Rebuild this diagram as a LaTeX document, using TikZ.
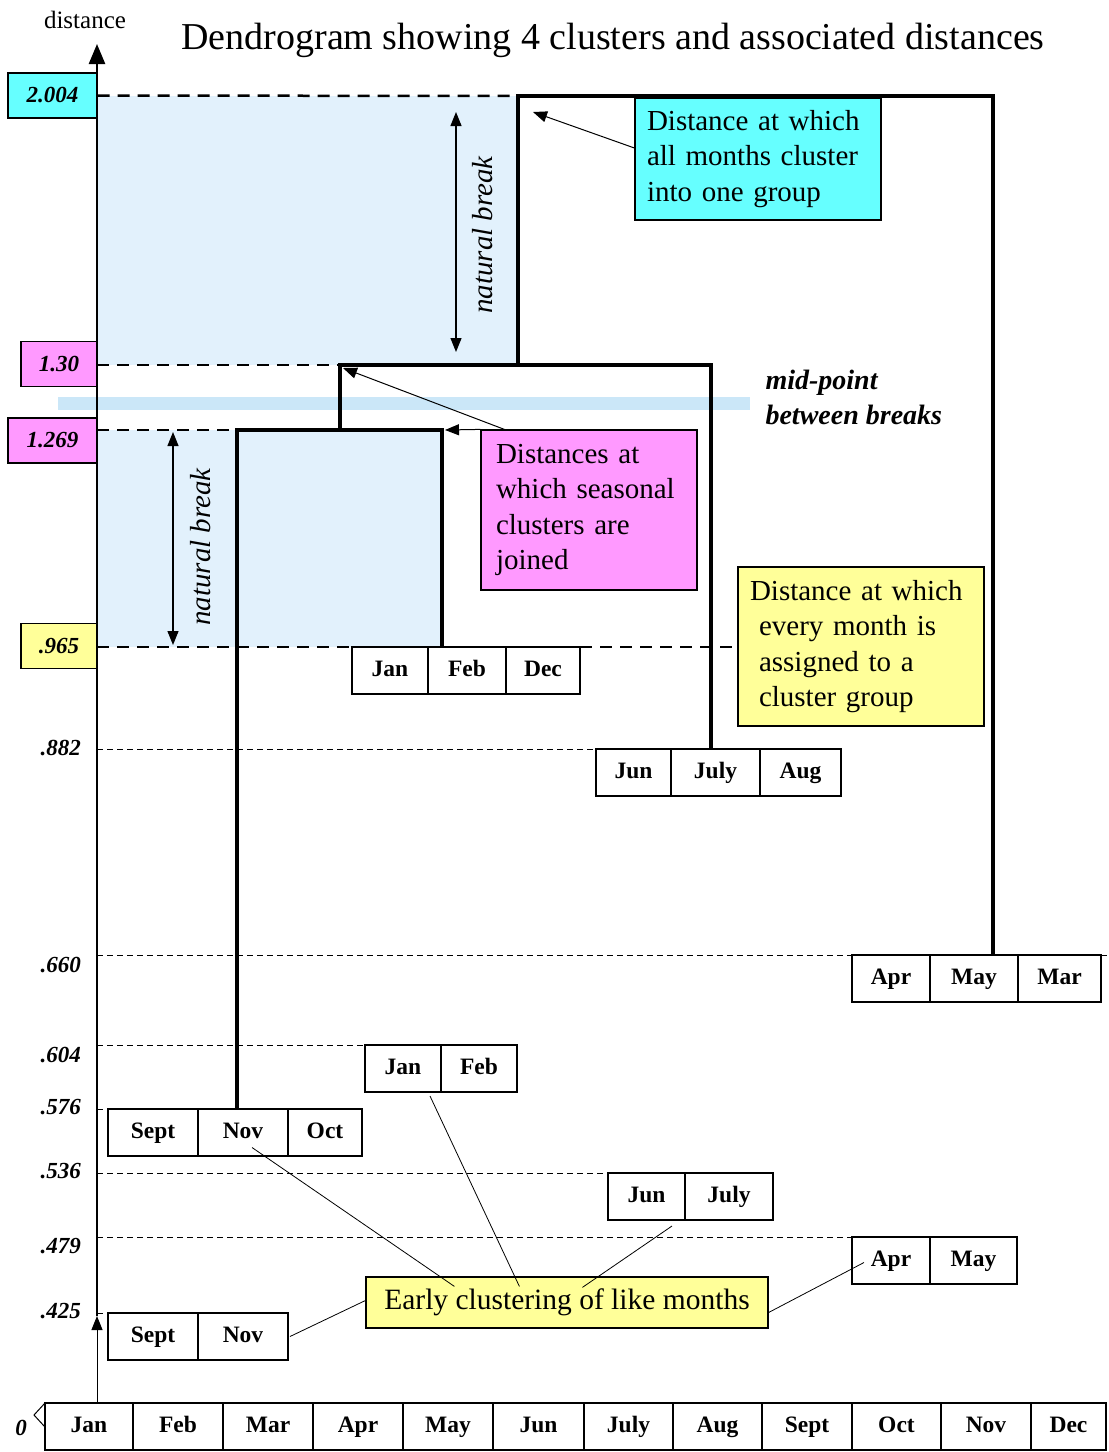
\documentclass[tikz,border=0pt]{standalone}
\usepackage{fontspec}
\setmainfont{Liberation Serif}
\usetikzlibrary{arrows.meta,positioning,calc}

\definecolor{cyanbox}{HTML}{66FFFF}
\definecolor{pinkbox}{HTML}{FF99FF}
\definecolor{yellowbox}{HTML}{FFFF99}
\definecolor{breakshade}{HTML}{E2F1FC}
\definecolor{midband}{HTML}{CBE7F8}

\begin{document}
\begin{tikzpicture}[x=1pt, y=-1pt,
  mbox/.style={draw, line width=2.5pt, fill=white, inner sep=0pt, outer sep=0pt,
               minimum height=47, text height=16pt, text depth=5pt,
               font=\fontsize{23.5}{27}\selectfont\bfseries},
  vbox/.style={draw, line width=1.2pt, inner sep=0pt, minimum height=45,
               font=\fontsize{23}{27}\selectfont\bfseries\itshape},
  vlab/.style={anchor=east, inner sep=0pt, font=\fontsize{23}{27}\selectfont\bfseries\itshape},
  note/.style={draw, line width=1.2pt, align=left, inner xsep=12pt, inner ysep=0pt,
               font=\fontsize{29}{35.5}\selectfont},
  link/.style={line width=4pt},
  major/.style={line width=2.5pt, dash pattern=on 12pt off 8pt},
  minor/.style={line width=1pt, dash pattern=on 6pt off 4pt},
  arr/.style={-{Triangle[length=14pt,width=11pt]}, line width=1pt},
  dbl/.style={{Triangle[length=14pt,width=11pt]}-{Triangle[length=14pt,width=11pt]}, line width=1.2pt},
  lead/.style={line width=0.8pt}]
  \useasboundingbox (0,0) rectangle (1109,1452);

  % shaded breaks and mid-point band
  \fill[breakshade] (97,96) rectangle (518,365);
  \fill[breakshade] (97,430) rectangle (442,647);
  \fill[midband] (58,397) rectangle (750,410);

  % joins of the dendrogram
  \coordinate (j2004) at (518,96);
  \coordinate (j2004r) at (993,96);
  \coordinate (j130) at (340,365);
  \coordinate (j130r) at (711,365);
  \coordinate (j1269) at (237,430);
  \coordinate (j1269r) at (442,430);
  \coordinate (ax0) at (97,1403);
  \coordinate (axmid) at (97,1316);
  \coordinate (axtop) at (97,44);

  % titles
  \node[font=\fontsize{38}{42}\selectfont] (title) at (613,40) {Dendrogram showing 4 clusters and associated distances};
  \node[font=\fontsize{25}{28}\selectfont] (axlab) at (85,20) {distance};

  % distance scale
  \node[vbox, fill=cyanbox, minimum width=89] (v2004) at (52.5,95.5) {2.004};
  \node[vbox, fill=pinkbox, minimum width=76] (v130) at (59,364) {1.30};
  \node[vbox, fill=pinkbox, minimum width=89] (v1269) at (52.5,440.5) {1.269};
  \node[vbox, fill=yellowbox, minimum width=76] (v965) at (59,646) {.965};
  \foreach \v/\y in {.882/748, .660/965, .604/1055, .576/1107, .536/1171, .479/1246, .425/1311}
    \node[vlab] (lab\y) at (81,\y) {\v};
  \node[vlab] (lab0) at (27,1428) {0};

  % months along the bottom
  \foreach \m/\x/\w [count=\i] in {Jan/45/88, Feb/133/90, Mar/223/90, Apr/313/90, May/403/90, Jun/493/91,
                                   July/584/89, Aug/673/89, Sept/762/90, Oct/852/89, Nov/941/90, Dec/1031/75}
    \node[mbox, anchor=north west, minimum width=\w] (b\i) at (\x,1403) {\m};

  % clusters
  \node[mbox, anchor=north west, minimum width=76] (jan965) at (352,647) {Jan};
  \node[mbox, minimum width=78, right=0pt of jan965] (feb965) {Feb};
  \node[mbox, minimum width=74, right=0pt of feb965] (dec965) {Dec};

  \node[mbox, anchor=north west, minimum width=75] (jun882) at (596,749) {Jun};
  \node[mbox, minimum width=89, right=0pt of jun882] (jul882) {July};
  \node[mbox, minimum width=81, right=0pt of jul882] (aug882) {Aug};

  \node[mbox, anchor=north west, minimum width=78] (apr660) at (852,955) {Apr};
  \node[mbox, minimum width=88, right=0pt of apr660] (may660) {May};
  \node[mbox, minimum width=83, right=0pt of may660] (mar660) {Mar};

  \node[mbox, anchor=north west, minimum width=76] (jan604) at (365,1045) {Jan};
  \node[mbox, minimum width=76, right=0pt of jan604] (feb604) {Feb};

  \node[mbox, anchor=north west, minimum width=90] (sep576) at (108,1109) {Sept};
  \node[mbox, minimum width=90, right=0pt of sep576] (nov576) {Nov};
  \node[mbox, minimum width=74, right=0pt of nov576] (oct576) {Oct};

  \node[mbox, anchor=north west, minimum width=77] (jun536) at (608,1173) {Jun};
  \node[mbox, minimum width=88, right=0pt of jun536] (jul536) {July};

  \node[mbox, anchor=north west, minimum width=78] (apr479) at (852,1237) {Apr};
  \node[mbox, minimum width=87, right=0pt of apr479] (may479) {May};

  \node[mbox, anchor=north west, minimum width=90] (sep425) at (108,1313) {Sept};
  \node[mbox, minimum width=90, right=0pt of sep425] (nov425) {Nov};

  % callouts
  \node[note, fill=cyanbox, text width=222pt, minimum height=122, inner xsep=12pt] (allnote) at (758,159)
    {Distance at which\\all months cluster\\into one group};
  \node[note, fill=pinkbox, text width=186pt, minimum height=160, inner xsep=15pt] (seasnote) at (589,510)
    {Distances at\\which seasonal\\clusters are\\joined};
  \node[note, fill=yellowbox, text width=222pt, minimum height=159] (everynote) at (861,646.5)
    {Distance at which\\\hspace*{9pt}every month is\\\hspace*{9pt}assigned to a\\\hspace*{9pt}cluster group};
  \node[note, fill=yellowbox, align=center, minimum width=402, minimum height=51,
        font=\fontsize{29.5}{35}\selectfont] (earlynote) at (567,1302.5)
    {Early clustering of like months};
  \node[font=\fontsize{28}{35}\selectfont\bfseries\itshape, align=left, anchor=west] (midtxt) at (762,397)
    {mid-point\\between breaks};
  \node[font=\fontsize{29}{32}\selectfont\itshape, rotate=90] (nb1) at (483,235) {natural break};
  \node[font=\fontsize{29}{32}\selectfont\itshape, rotate=90] (nb2) at (201,547) {natural break};

  % distance levels
  \draw[major] (v2004.east) -- (j2004);
  \draw[major] (j130 -| ax0) -- (j130);
  \draw[major] (j1269 -| ax0) -- (j1269);
  \draw[major] (jan965.north west -| ax0) -- (jan965.north west);
  \draw[major] (dec965.north east) -- (everynote.west |- dec965.north);
  \draw[minor] (jun882.north west -| ax0) -- (jun882.north west);
  \draw[minor] (apr660.north west -| ax0) -- (apr660.north west);
  \draw[minor] (mar660.north east) -- ++(8,0);
  \draw[minor] (jan604.north west -| ax0) -- (jan604.north west);
  \draw[minor] (sep576.north west -| ax0) -- (sep576.north west);
  \draw[minor] (jun536.north west -| ax0) -- (jun536.north west);
  \draw[minor] (apr479.north west -| ax0) -- (apr479.north west);
  \draw[minor] (sep425.north west -| ax0) -- (sep425.north west);

  % dendrogram
  \draw[link] (j130 -| j2004) -- (j2004) -- (j2004r) -- (j2004r |- may660.north);
  \draw[link] (j1269 -| j130) -- (j130) -- (j130r) -- (j130r |- jul882.north);
  \draw[link] (j1269 |- nov576.north) -- (j1269) -- (j1269r) -- (j1269r |- feb965.north);

  % axis
  \draw[arr] (ax0) -- (axmid);
  \draw[line width=2.5pt, -{Triangle[length=20pt,width=16pt]}] (axmid) -- (axtop);
  \draw[line width=1pt] (b1.north west) -- ++(-11,12) -- ++(11,12);

  % arrows and leaders
  \coordinate (nb1top) at (456,112);
  \coordinate (nb1bot) at (456,352);
  \coordinate (nb2top) at (173,432);
  \coordinate (nb2bot) at (173,645);
  \draw[dbl] (nb1top) -- (nb1bot);
  \draw[dbl] (nb2top) -- (nb2bot);
  \draw[arr] ($(allnote.west)+(0,-11)$) -- ($(j2004)+(15,16)$);
  \draw[arr] ($(seasnote.north west)+(24,0)$) -- ($(j130)+(3,3)$);
  \draw[arr] (seasnote.north west) -- ($(j1269r)+(3,0)$);
  \draw[lead] ($(earlynote.west)+(0,-2)$) -- ($(nov425.east)+(2,0)$);
  \draw[lead] ($(earlynote.north west)+(89,10)$) -- ($(nov576.center)+(9,15)$);
  \draw[lead] ($(earlynote.north west)+(154,10)$) -- ($(jan604.south)+(27,4)$);
  \draw[lead] ($(earlynote.north west)+(217,11)$) -- ($(jun536.south east)+(-13,6)$);
  \draw[lead] ($(earlynote.east)+(0,10)$) -- ($(apr479.west)+(12,2)$);
\end{tikzpicture}
\end{document}
